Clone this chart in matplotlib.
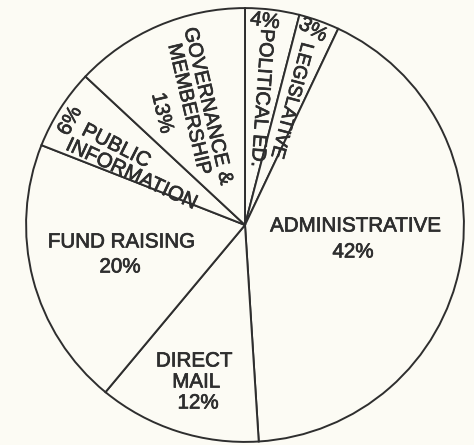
import matplotlib
matplotlib.use("Agg")
import matplotlib.pyplot as plt
import matplotlib.patheffects as pe

# ---- data ----
categories = ["POLITICAL ED.", "LEGISLATIVE", "ADMINISTRATIVE", "DIRECT MAIL",
              "FUND RAISING", "PUBLIC INFORMATION", "GOVERNANCE & MEMBERSHIP"]
values = [4, 3, 42, 12, 20, 6, 13]
pct_labels = ["4%", "3%", "42%", "12%", "20%", "6%", "13%"]

BG = "#fcfbf4"
INK = "#2e2e2e"
W, H = 474, 445

fig = plt.figure(figsize=(W / 100, H / 100), dpi=100, facecolor=BG)
# axes box in pixels: left 25, top 7, width 440, height 436
ax = fig.add_axes([25 / W, 1 - (7 + 436) / H, 440 / W, 436 / H])
ax.set_facecolor(BG)
ax.pie(values, startangle=90, counterclock=False, radius=1.0,
       colors=[BG] * len(values),
       wedgeprops=dict(edgecolor=INK, linewidth=1.4))
ax.set_aspect("auto")
ax.set_xlim(-1.005, 1.005)
ax.set_ylim(-1.005, 1.005)
ax.axis("off")

def put(s, x, y, rot=0, size=14.8):
    fig.text(x / W, 1 - y / H, s, ha="center", va="center", rotation=rot,
             rotation_mode="anchor", family=["Liberation Sans", "DejaVu Sans"],
             size=size, color=INK,
             path_effects=[pe.withStroke(linewidth=0.5, foreground=INK)])

# label layout (pixel positions, rotation)
put(pct_labels[0], 265, 21, -8)
put("POLITICAL ED.", 262, 98, -94, 14.2)
put(pct_labels[1], 313, 30, -30)
put("LEGISLATIVE", 291, 100, -105, 13.6)
put("ADMINISTRATIVE", 355, 226)
put(pct_labels[2], 353, 252)
put("DIRECT", 194, 361)
put("MAIL", 196, 382)
put(pct_labels[3], 198, 403)
put("FUND RAISING", 121, 242)
put(pct_labels[4], 120, 267)
put(pct_labels[5], 70, 121, 62)
put("PUBLIC", 116, 146, -27)
put("INFORMATION", 131, 174, -25)
put("GOVERNANCE &", 208, 106, -76.7, 14.4)
put("MEMBERSHIP", 189, 109, -76.7, 14.4)
put(pct_labels[6], 162, 113, -76.7)

fig.savefig("out.png", dpi=100, facecolor=BG)
